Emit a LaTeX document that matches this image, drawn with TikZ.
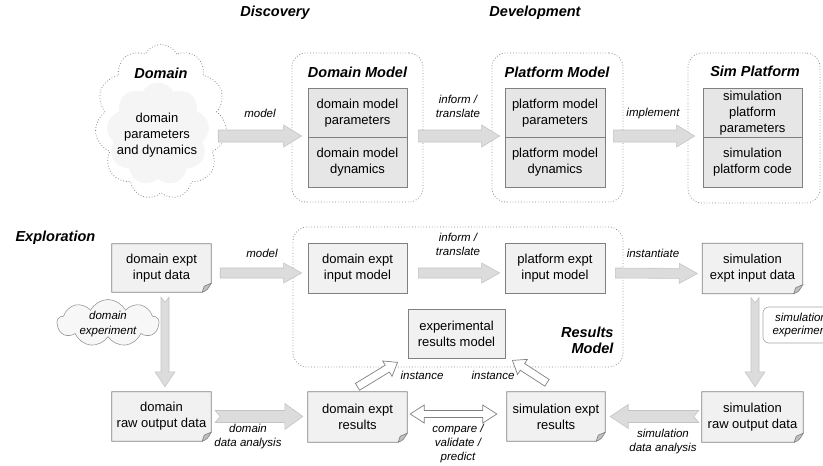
\documentclass[tikz,border=0pt]{standalone}
\usepackage{fontspec}
\setmainfont{Liberation Sans}
\usetikzlibrary{calc,shapes.symbols,backgrounds}
\definecolor{boxline}{HTML}{808080}
\definecolor{topfill}{HTML}{E6E6E6}
\definecolor{botfill}{HTML}{F1F1F1}
\definecolor{arrfill}{HTML}{DCDCDC}
\definecolor{arrline}{HTML}{C4C4C4}
\definecolor{dotline}{HTML}{8C8C8C}
\tikzset{
 boxtext/.style={font=\fontsize{13}{16}\selectfont, align=center},
 lbl/.style={font=\fontsize{11.5}{14}\selectfont\itshape, align=center},
 ttl/.style={font=\fontsize{14.5}{16}\selectfont\bfseries\itshape, align=center},
 container/.style={draw=dotline, dotted, rounded corners=14pt, line width=0.8pt},
 inbox/.style={boxtext, draw=boxline, fill=topfill, minimum width=99pt, minimum height=49.5pt, inner sep=0pt, line width=0.8pt},
 plainbox/.style={boxtext, draw=boxline, fill=botfill, minimum width=99pt, minimum height=50pt, inner sep=0pt, line width=0.8pt},
 docbox/.style={boxtext, minimum width=99pt, minimum height=49pt, inner sep=0pt},
 docfr/.style={draw=boxline, fill=botfill, line width=0.8pt},
 foldst/.style={draw=boxline, fill=black!25, line width=0.6pt},
 solidarrow/.style={draw=arrline, fill=arrfill, line width=0.6pt},
 openarrow/.style={draw=boxline, fill=white, line width=0.7pt},
}
\newcommand\docframe[1]{%
 \path[docfr] (#1.north west) -- (#1.north east) -- ([yshift=9pt]#1.south east) -- ([xshift=-9pt]#1.south east) -- (#1.south west) -- cycle;
 \path[foldst] ([xshift=-9pt]#1.south east) .. controls ([xshift=-4pt,yshift=2pt]#1.south east) .. ([yshift=9pt]#1.south east) -- ([xshift=-7pt,yshift=6pt]#1.south east) -- cycle;}
\newcommand\blockarrow[7]{%
 \coordinate (ba-a) at (#2);
 \coordinate (ba-b) at (#3);
 \coordinate (ba-h) at ($(ba-b)!#6!(ba-a)$);
 \path[#1] ($(ba-a)!#4!90:(ba-b)$) -- ($(ba-h)!#4!90:(ba-b)$) -- ($(ba-h)!#5!90:(ba-b)$) -- (ba-b) -- ($(ba-h)!#5!-90:(ba-b)$) -- ($(ba-h)!#4!-90:(ba-b)$) -- ($(ba-a)!#4!-90:(ba-b)$) -- ($(ba-a)!#7!(ba-b)$) -- cycle;}
\newcommand\dblarrow[6]{%
 \coordinate (da-a) at (#2);
 \coordinate (da-b) at (#3);
 \coordinate (da-ha) at ($(da-a)!#6!(da-b)$);
 \coordinate (da-hb) at ($(da-b)!#6!(da-a)$);
 \path[#1] (da-a) -- ($(da-ha)!#5!90:(da-b)$) -- ($(da-ha)!#4!90:(da-b)$) -- ($(da-hb)!#4!90:(da-b)$) -- ($(da-hb)!#5!90:(da-b)$) -- (da-b) -- ($(da-hb)!#5!-90:(da-b)$) -- ($(da-hb)!#4!-90:(da-b)$) -- ($(da-ha)!#4!-90:(da-b)$) -- ($(da-ha)!#5!-90:(da-b)$) -- cycle;}
\begin{document}
\begin{tikzpicture}[x=1pt,y=-1pt]
\useasboundingbox (0,0) rectangle (823,466);
\clip (0,0) rectangle (823,466);
% ---------- top headings
\node[ttl] (disc) at (275,13) {Discovery};
\node[ttl] (dev) at (535,13) {Development};
% ---------- domain cloud
\node[cloud, cloud puffs=11, cloud puff arc=125, draw=dotline, dotted, line width=0.8pt, minimum width=132pt, minimum height=155pt, aspect=0.85] (dom) at (161,122) {};
\node[cloud, cloud puffs=9, cloud puff arc=125, fill=black!4, minimum width=103pt, minimum height=103pt] (domin) at (158,134) {};
\node[ttl] (domt) at (161,73) {Domain};
\node[boxtext] (domtx) at (157,135) {domain\\parameters\\and dynamics};
% ---------- containers
\node[container, minimum width=131pt, minimum height=149pt] (dmc) at (357.5,127.5) {};
\node[container, minimum width=131pt, minimum height=149pt] (pmc) at (557.5,127.5) {};
\node[container, minimum width=132pt, minimum height=150pt] (spc) at (754,128) {};
\node[container, minimum width=330pt, minimum height=140pt] (rmc) at (458,297) {};
\node[ttl] (dmt) at (357.5,72) {Domain Model};
\node[ttl] (pmt) at (557,72) {Platform Model};
\node[ttl] (spt) at (755,71) {Sim Platform};
\node[ttl, anchor=east, align=right] (rmt) at (617,340) {Results\\Model};
% ---------- inner boxes
\node[inbox] (dmp) at (357.5,113) {domain model\\parameters};
\node[inbox] (dmd) at (357.5,162.5) {domain model\\dynamics};
\node[inbox, minimum width=100pt] (pmp) at (555,113) {platform model\\parameters};
\node[inbox, minimum width=100pt] (pmd) at (555,162.5) {platform model\\dynamics};
\node[inbox] (spp) at (752.5,113) {simulation\\platform\\parameters};
\node[inbox] (spd) at (752.5,162.5) {simulation\\platform code};
% ---------- top arrows
\blockarrow{solidarrow}{$(dom.east)+(-7,14)$}{$(dmc.west)+(10,8.5)$}{6pt}{11pt}{18pt}{0pt}
\blockarrow{solidarrow}{$(dmc.east)+(-5,8.5)$}{$(pmc.west)+(8,8.5)$}{6pt}{11pt}{18pt}{0pt}
\blockarrow{solidarrow}{$(pmc.east)+(-10,8.5)$}{$(spc.west)+(7,8)$}{6pt}{11pt}{18pt}{0pt}
\node[lbl] (l1) at (260,113) {model};
\node[lbl] (l2) at (458,106) {inform /\\translate};
\node[lbl] (l3) at (653,114) {implement};
% ---------- bottom
\node[ttl, anchor=west] (expl) at (12,238) {Exploration};
\node[docbox, minimum height=48pt] (dein) at (161.5,268) {domain expt\\input data};
\node[plainbox] (deim) at (357.5,268) {domain expt\\input model};
\node[plainbox, minimum width=100pt] (peim) at (555,268) {platform expt\\input model};
\node[docbox, minimum width=100pt, minimum height=50pt] (sein) at (752.5,268.5) {simulation\\expt input data};
\node[plainbox, minimum width=97pt, minimum height=49pt] (erm) at (456.5,333.5) {experimental\\results model};
\node[docbox] (drod) at (161.5,416.5) {domain\\raw output data};
\node[docbox, minimum height=50pt] (der) at (357.5,417) {domain expt\\results};
\node[docbox, minimum width=98pt] (ser) at (556,416.5) {simulation expt\\results};
\node[docbox, minimum width=101pt, minimum height=50pt] (srod) at (752.5,417) {simulation\\raw output data};
\begin{scope}[on background layer]
\docframe{dein}
\docframe{sein}
\docframe{drod}
\docframe{der}
\docframe{ser}
\docframe{srod}
\end{scope}
% clouds / side notes
\node[cloud, cloud puffs=9, cloud puff arc=125, draw=black!40, fill=black!3, line width=0.6pt, minimum width=102pt, minimum height=47pt, aspect=2.2] (dexc) at (108,323) {};
\node[lbl, font=\fontsize{11.5}{15}\selectfont\itshape] (dext) at (108,324) {domain\\experiment};
\node[draw=black!35, rounded corners=6pt, fill=white, minimum width=76pt, minimum height=36pt, lbl, font=\fontsize{11.5}{13}\selectfont\itshape, line width=0.6pt] (sexp) at (801,325) {simulation\\experiment};
% ---------- bottom arrows
\blockarrow{solidarrow}{$(dein.east)+(9,5)$}{$(deim.west)+(-6,5)$}{5pt}{10pt}{18pt}{0pt}
\blockarrow{solidarrow}{$(deim.east)+(11,5)$}{$(peim.west)+(-5,5)$}{5pt}{10pt}{18pt}{0pt}
\blockarrow{solidarrow}{$(peim.east)+(10,5)$}{$(sein.west)+(-5,5)$}{5pt}{10pt}{18pt}{0pt}
\blockarrow{solidarrow}{$(dein.south)+(3.5,5)$}{$(drod.north)+(3.5,-5)$}{4pt}{10pt}{15pt}{5pt}
\blockarrow{solidarrow}{$(sein.south)+(2.5,4)$}{$(srod.north)+(2.5,-5)$}{4pt}{10pt}{15pt}{5pt}
\blockarrow{solidarrow}{$(drod.east)+(4,0)$}{$(der.west)+(-5,-0.5)$}{6pt}{13pt}{18pt}{5pt}
\blockarrow{solidarrow}{$(srod.west)+(-3,-0.5)$}{$(ser.east)+(5,0)$}{6pt}{12pt}{18pt}{5pt}
\dblarrow{openarrow}{$(der.east)+(3,-3)$}{$(ser.west)+(-10,-2.5)$}{3.5pt}{9pt}{14pt}
\blockarrow{openarrow}{$(der.north)+(0,-5)$}{$(erm.south west)+(-10,4)$}{4pt}{9pt}{12pt}{0pt}
\blockarrow{openarrow}{$(ser.north)+(-9,-9)$}{$(erm.south east)+(7,2)$}{4pt}{9pt}{12pt}{0pt}
% ---------- bottom labels
\node[lbl] (l4) at (262,253) {model};
\node[lbl] (l5) at (458,244) {inform /\\translate};
\node[lbl] (l6) at (653,253) {instantiate};
\node[lbl] (l7) at (422,375) {instance};
\node[lbl] (l8) at (493,375) {instance};
\node[lbl] (l9) at (458,444) {compare /\\validate /\\predict};
\node[lbl] (l10) at (248,437) {domain\\data analysis};
\node[lbl] (l11) at (663,442) {simulation\\data analysis};
\end{tikzpicture}
\end{document}
